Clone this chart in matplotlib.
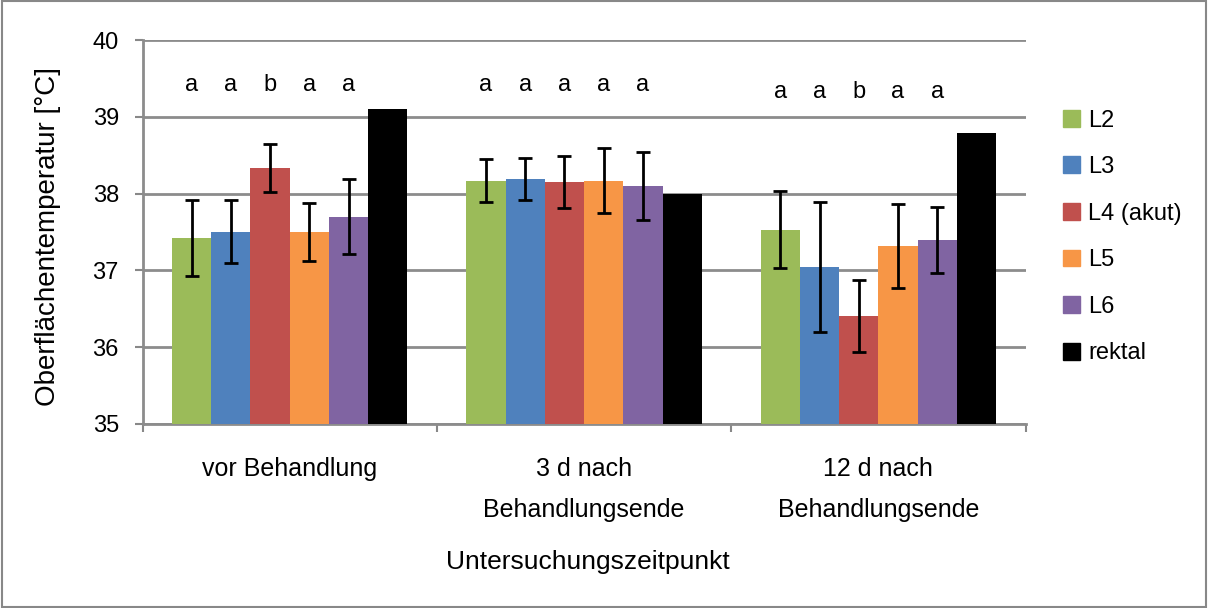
import numpy as np
import matplotlib.pyplot as plt
from matplotlib.patches import Rectangle

plt.rcParams['font.family'] = ['Liberation Sans', 'DejaVu Sans']

groups = ['vor Behandlung', '3 d nach\nBehandlungsende', '12 d nach\nBehandlungsende']
series = ['L2', 'L3', 'L4 (akut)', 'L5', 'L6', 'rektal']
colors = ['#9bbb59', '#4f81bd', '#c0504d', '#f79646', '#8064a2', '#000000']

means = {
    'L2':        [37.42, 38.17, 37.53],
    'L3':        [37.50, 38.19, 37.04],
    'L4 (akut)': [38.33, 38.15, 36.40],
    'L5':        [37.50, 38.17, 37.32],
    'L6':        [37.70, 38.10, 37.39],
    'rektal':    [39.10, 38.00, 38.79],
}
errors = {
    'L2':        [0.50, 0.28, 0.50],
    'L3':        [0.41, 0.28, 0.85],
    'L4 (akut)': [0.31, 0.34, 0.47],
    'L5':        [0.38, 0.42, 0.55],
    'L6':        [0.49, 0.44, 0.43],
    'rektal':    [None, None, None],
}
letters = [['a', 'a', 'b', 'a', 'a'],
           ['a', 'a', 'a', 'a', 'a'],
           ['a', 'a', 'b', 'a', 'a']]
letter_y = [39.41, 39.41, 39.32]

fig = plt.figure(figsize=(12.08, 6.08), dpi=100)
fig.patches.append(Rectangle((0.002, 0.002), 0.996, 0.996, transform=fig.transFigure,
                             fill=False, edgecolor='#888888', linewidth=1.5))
ax = fig.add_axes([0.118, 0.303, 0.731, 0.631])

n = len(series)
width = 0.8 / n
x = np.arange(len(groups))
for i, s in enumerate(series):
    pos = x - 0.4 + width * (i + 0.5)
    ax.bar(pos, np.array(means[s]) - 35, bottom=35, width=width, color=colors[i],
           edgecolor='none', zorder=3)
    if errors[s][0] is not None:
        ax.errorbar(pos, means[s], yerr=errors[s], fmt='none', ecolor='black',
                    elinewidth=2, capsize=5, capthick=2, zorder=4)

for g in range(len(groups)):
    for i, lt in enumerate(letters[g]):
        pos = g - 0.4 + width * (i + 0.5)
        ax.text(pos, letter_y[g], lt, ha='center', va='center', fontsize=17)

ax.set_xlim(-0.5, 2.5)
ax.set_ylim(35, 40)
ax.set_yticks([35, 36, 37, 38, 39, 40])
ax.tick_params(axis='y', labelsize=17, length=6, width=1.5, color='#888888', pad=11)
ax.set_xticks([-0.5, 0.5, 1.5, 2.5])
ax.set_xticklabels([])
ax.tick_params(axis='x', length=6, width=1.5, color='#888888')
for g, lab in enumerate(groups):
    ax.text(g, 34.57, lab, ha='center', va='top', fontsize=18, linespacing=1.93,
            transform=ax.transData)

ax.grid(axis='y', color='#8c8c8c', linewidth=2, zorder=0)
for side in ['top', 'right']:
    ax.spines[side].set_visible(False)
ax.spines['left'].set_color('#8c8c8c')
ax.spines['left'].set_linewidth(2)
ax.spines['bottom'].set_color('#8c8c8c')
ax.spines['bottom'].set_linewidth(2)

fig.text(48 / 1208, 1 - 237 / 608, 'Oberflächentemperatur [°C]', rotation=90,
         ha='center', va='center', fontsize=20)
fig.text(0.487, 0.0757, 'Untersuchungszeitpunkt', ha='center', va='center', fontsize=19)

handles = [Rectangle((0, 0), 1, 1, color=c) for c in colors]
ax.legend(handles, series, loc='upper left', bbox_to_anchor=(1.042, 0.819), frameon=False,
          fontsize=17, handlelength=0.72, handleheight=0.72, labelspacing=1.04,
          handletextpad=0.35, borderpad=0, borderaxespad=0)

fig.savefig('out.png', dpi=100)
